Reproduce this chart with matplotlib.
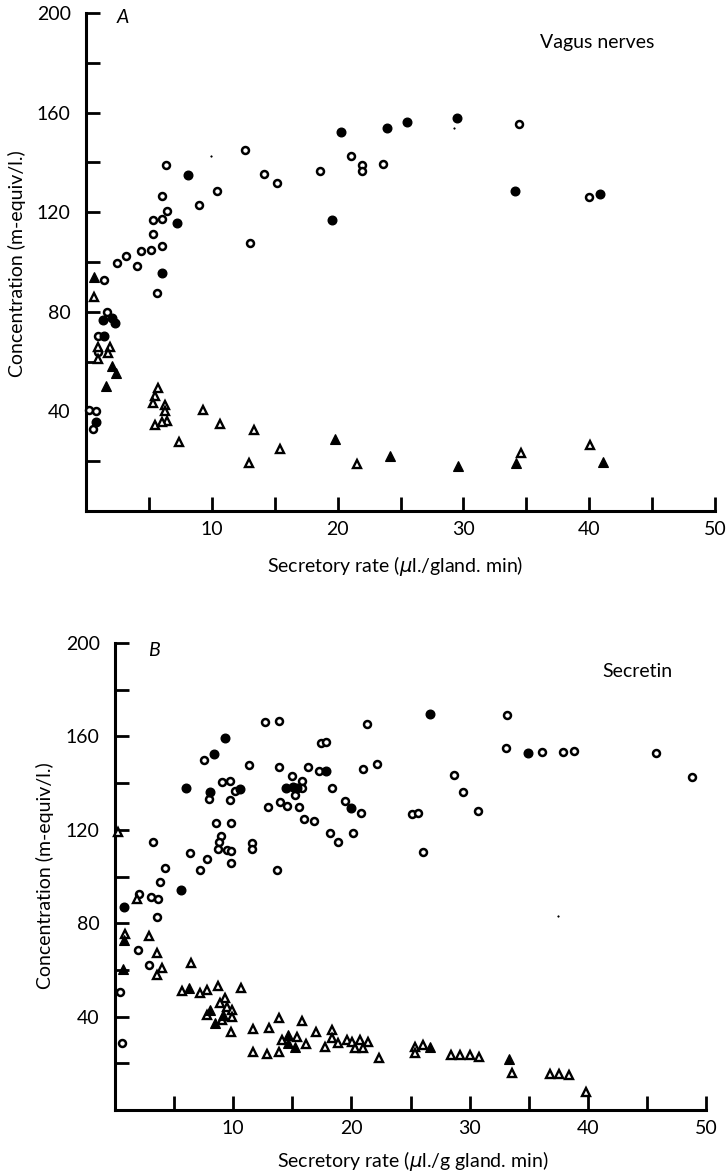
import matplotlib
matplotlib.use('Agg')
import matplotlib.pyplot as plt
import numpy as np

plt.rcParams['font.family'] = ['Lato', 'DejaVu Sans']

# ---- panel A: vagus nerves (x = secretory rate, y = concentration) ----
a_open_circ = [(12.64, 144.9), (6.33, 138.8), (10.39, 128.7), (9.0, 123.0), (6.02, 126.5),
               (6.47, 120.4), (6.02, 117.3), (5.35, 116.7), (5.3, 111.3), (13.05, 107.5),
               (6.07, 106.3), (5.14, 104.8), (4.35, 104.3), (3.15, 102.5), (2.44, 99.6),
               (4.08, 98.5), (1.46, 92.9), (5.62, 87.5), (1.64, 80.0), (0.98, 70.3),
               (0.98, 63.8), (0.27, 40.7), (0.77, 40.0), (0.58, 32.9), (34.45, 155.6),
               (21.04, 142.5), (21.9, 138.8), (21.9, 136.4), (23.64, 139.5), (18.6, 136.4),
               (14.17, 135.5), (15.2, 131.9), (40.0, 126.1)]
a_filled_circ = [(8.08, 134.8), (7.21, 115.6), (6.07, 95.4), (1.38, 76.7), (2.04, 77.7),
                 (2.31, 75.4), (1.45, 70.3), (0.77, 35.6), (20.27, 152.3), (23.95, 154.0),
                 (25.5, 156.3), (29.47, 157.9), (34.1, 128.5), (40.86, 127.4), (19.58, 116.9)]
a_open_tri = [(0.66, 85.8), (0.98, 66.0), (1.9, 65.8), (0.98, 60.9), (1.77, 63.3),
              (5.75, 49.5), (5.48, 46.1), (5.35, 43.4), (6.28, 42.7), (6.28, 40.0),
              (6.41, 36.0), (5.48, 34.7), (6.02, 35.6), (9.3, 40.7), (10.68, 35.1),
              (7.39, 27.7), (12.93, 19.1), (13.36, 32.4), (15.42, 25.0), (21.57, 19.0),
              (34.55, 23.2), (40.06, 26.6)]
a_filled_tri = [(0.66, 94.1), (2.09, 58.2), (2.38, 55.5), (1.59, 50.4), (19.8, 28.9),
                (24.2, 21.9), (29.6, 17.9), (34.2, 19.2), (41.07, 19.5)]
a_specks = [(9.94, 142.5), (29.25, 154.0)]

# ---- panel B: secretin ----
b_open_circ = [(7.56, 149.7), (11.3, 147.8), (9.03, 140.5), (9.73, 141.0), (10.15, 136.8),
               (7.97, 133.4), (9.73, 132.6), (12.69, 166.1), (13.9, 166.4), (21.35, 165.2),
               (17.4, 157.1), (17.85, 157.5), (13.9, 146.7), (16.35, 146.7), (17.3, 145.2),
               (21.0, 146.1), (22.14, 148.2), (28.7, 143.5), (15.0, 143.2), (15.85, 141.0),
               (15.8, 138.1), (18.4, 138.1), (15.23, 134.7), (13.96, 131.7), (14.53, 130.0),
               (15.6, 129.7), (12.97, 129.7), (19.5, 132.5), (20.8, 127.1), (16.0, 124.7),
               (16.86, 123.8), (8.54, 123.1), (9.79, 122.8), (9.0, 117.5), (8.83, 114.7),
               (8.74, 111.8), (9.45, 111.4), (9.8, 111.0), (11.56, 114.3), (11.56, 111.8),
               (7.81, 107.5), (9.79, 105.7), (7.2, 102.8), (13.68, 102.8), (18.19, 118.5),
               (18.9, 114.7), (20.16, 118.5), (25.13, 126.7), (25.6, 127.0), (26.03, 110.4),
               (29.4, 136.4), (33.2, 169.2), (33.08, 155.2), (36.1, 153.3), (37.9, 153.3),
               (38.83, 153.8), (45.77, 152.8), (48.8, 142.4), (30.74, 128.2), (3.24, 114.7),
               (6.35, 110.0), (4.23, 103.8), (3.81, 97.8), (2.06, 92.5), (3.02, 91.4),
               (3.61, 90.5), (3.52, 82.8), (1.97, 68.5), (2.9, 62.1), (0.42, 50.4),
               (0.62, 28.6)]
b_filled_circ = [(9.34, 159.4), (8.35, 152.5), (6.0, 138.1), (10.55, 137.4), (8.04, 136.2),
                 (17.85, 145.2), (14.47, 138.1), (15.1, 138.5), (15.4, 137.8), (19.97, 129.5),
                 (26.65, 169.5), (34.9, 152.8), (5.58, 94.3), (0.79, 86.8)]
b_open_tri = [(0.28, 119.0), (1.83, 90.3), (0.85, 75.4), (2.88, 74.5), (3.58, 67.1),
              (3.95, 60.7), (3.58, 57.8), (6.43, 63.1), (5.64, 51.0), (7.19, 50.0),
              (7.81, 51.4), (8.74, 53.2), (10.65, 52.4), (9.3, 47.9), (8.88, 45.7),
              (9.45, 44.3), (9.87, 42.8), (7.76, 40.7), (9.02, 38.6), (9.87, 40.0),
              (9.81, 33.4), (11.7, 34.7), (13.06, 35.0), (13.87, 39.5), (15.8, 38.1),
              (17.0, 33.3), (18.33, 34.3), (11.65, 24.7), (12.83, 24.0), (13.87, 24.7),
              (14.1, 30.0), (15.37, 31.4), (16.2, 28.1), (17.77, 26.9), (18.33, 30.7),
              (18.9, 28.6), (19.6, 30.0), (20.02, 29.3), (20.73, 30.0), (21.43, 29.0),
              (20.3, 26.4), (21.0, 26.4), (22.36, 22.4), (25.38, 27.1), (26.03, 27.8),
              (25.38, 24.3), (28.4, 23.6), (29.2, 23.6), (30.0, 23.6), (30.8, 22.8),
              (33.6, 16.0), (36.8, 15.5), (37.6, 15.5), (38.4, 14.8), (39.85, 7.5)]
b_filled_tri = [(0.79, 72.8), (0.7, 60.3), (6.26, 52.4), (8.04, 42.8), (8.46, 37.1),
                (9.16, 40.7), (14.66, 32.1), (14.66, 28.6), (15.23, 27.1), (26.65, 26.9),
                (33.3, 22.0)]
b_specks = [(37.46, 83.2)]

x_major = [10, 20, 30, 40, 50]
x_minor = [5, 15, 25, 35, 45]
y_major = [40, 80, 120, 160, 200]
y_minor = [20, 60, 100, 140, 180]


def draw(ax, pts, marker, filled, ms, mew):
    x = [p[0] for p in pts]
    y = [p[1] for p in pts]
    ax.plot(x, y, linestyle='none', marker=marker, ms=ms, mew=mew,
            mfc='black' if filled else 'white', mec='black', clip_on=False, zorder=3)


def style(ax):
    ax.set_xlim(0, 50)
    ax.set_ylim(0, 200)
    for s in ['top', 'right']:
        ax.spines[s].set_visible(False)
    for s in ['left', 'bottom']:
        ax.spines[s].set_linewidth(2.2)
    ax.set_xticks(x_major)
    ax.set_xticks(x_minor, minor=True)
    ax.set_yticks(y_major)
    ax.set_yticks(y_minor, minor=True)
    ax.tick_params(which='both', direction='in', length=10, width=2)
    ax.tick_params(axis='x', labelsize=14, pad=7)
    ax.tick_params(axis='y', labelsize=14, pad=11)


W, H = 726, 1175
fig = plt.figure(figsize=(7.26, 11.75), dpi=100)
axA = fig.add_axes([86 / W, 1 - 511 / H, 629 / W, 498 / H])
axB = fig.add_axes([115 / W, 1 - 1110 / H, 591 / W, 467 / H])

for ax, oc, fc, ot, ft, sp in [(axA, a_open_circ, a_filled_circ, a_open_tri, a_filled_tri, a_specks),
                               (axB, b_open_circ, b_filled_circ, b_open_tri, b_filled_tri, b_specks)]:
    style(ax)
    draw(ax, oc, 'o', False, 5.0, 1.8)
    draw(ax, fc, 'o', True, 6.2, 1.0)
    draw(ax, ot, '^', False, 5.6, 1.7)
    draw(ax, ft, '^', True, 6.8, 0.8)
    draw(ax, sp, 'o', True, 1.2, 0.3)

axA.text(2.9, 198, 'A', style='italic', fontsize=14, ha='center', va='center')
axB.text(3.3, 197, 'B', style='italic', fontsize=14, ha='center', va='center')
axA.text(36.1, 188.3, 'Vagus nerves', fontsize=14, ha='left', va='center')
axB.text(41.2, 187.6, 'Secretin', fontsize=14, ha='left', va='center')

fig.text(395 / W, 1 - 566 / H, r'Secretory rate ($\mu$l./gland. min)', fontsize=14,
         ha='center', va='center')
fig.text(413 / W, 1 - 1161 / H, r'Secretory rate ($\mu$l./g gland. min)', fontsize=14,
         ha='center', va='center')
fig.text(17 / W, 1 - 264 / H, 'Concentration (m-equiv/l.)', fontsize=14, rotation=90,
         ha='center', va='center')
fig.text(45 / W, 1 - 876 / H, 'Concentration (m-equiv/l.)', fontsize=14, rotation=90,
         ha='center', va='center')

fig.savefig('out.png', dpi=100, facecolor='white')
